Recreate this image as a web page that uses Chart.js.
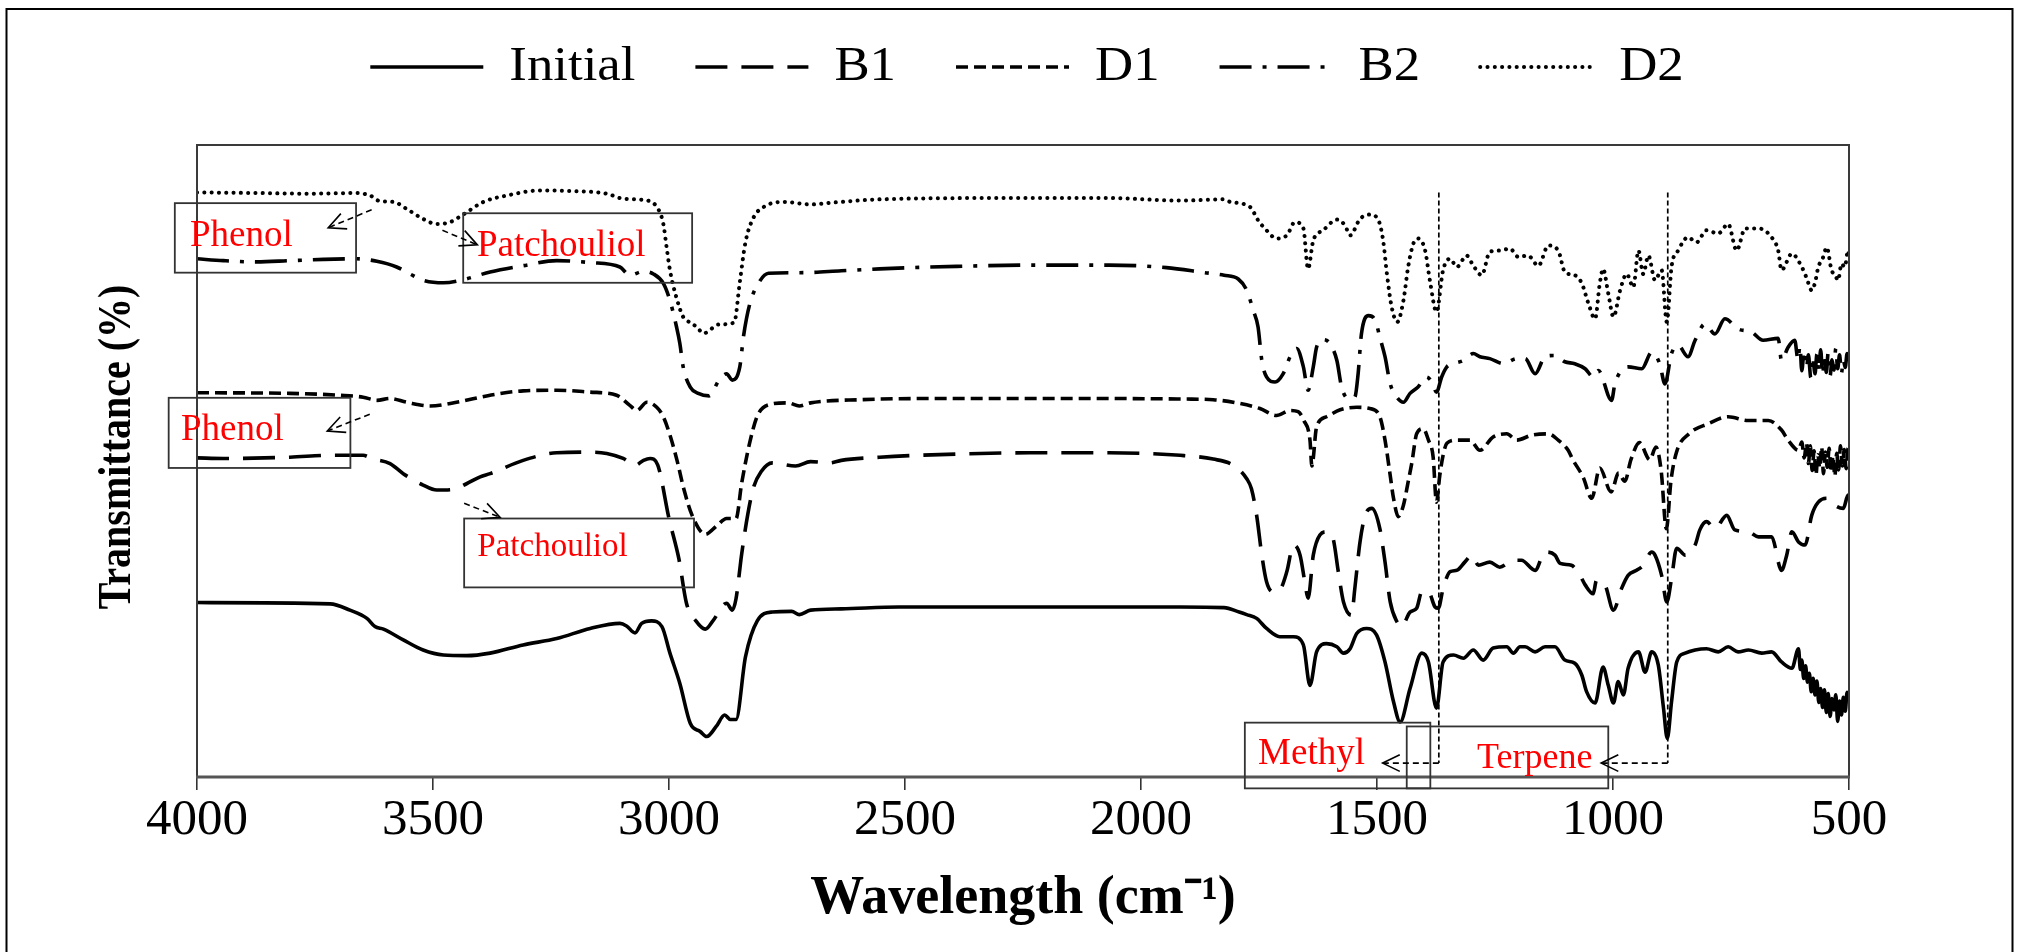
<!DOCTYPE html>
<html>
<head>
<meta charset="utf-8">
<title>FTIR spectra</title>
<script src="https://cdn.jsdelivr.net/npm/chart.js@4.4.1/dist/chart.umd.min.js"></script>
<style>
  html, body { margin: 0; padding: 0; background: #fff; }
  canvas { display: block; }
</style>
</head>
<body>
<canvas id="ftir" width="2019" height="952"></canvas>
<script>
// ---- Spectra: wavenumber (cm-1) and relative transmittance, each curve stacked with its own offset ----
const seriesNames = ['Initial', 'B1', 'D1', 'B2', 'D2'];

const initialWn = [4000, 3718, 3676, 3640, 3623, 3605, 3563, 3521, 3478, 3429, 3379, 3309, 3238, 3167, 3104, 3090, 3072, 3058, 3037, 3015, 2998, 2977, 2955, 2934, 2920, 2900, 2882, 2870, 2858, 2838, 2813, 2781, 2740, 2724, 2700, 2635, 2513, 2311, 2068, 1917, 1824, 1792, 1776, 1755, 1734, 1706, 1677, 1656, 1642, 1628, 1607, 1585, 1571, 1557, 1543, 1522, 1501, 1483, 1465, 1451, 1430, 1405, 1391, 1374, 1360, 1338, 1317, 1296, 1275, 1254, 1225, 1211, 1197, 1186, 1165, 1144, 1123, 1102, 1081, 1066, 1056, 1038, 1021, 1010, 999, 989, 978, 968, 946, 932, 918, 904, 893, 885, 876, 865, 847, 826, 802, 777, 756, 735, 713, 685, 664, 643, 621, 607, 603, 600, 596, 592, 588, 584, 580, 576, 572, 568, 564, 560, 556, 552, 548, 544, 540, 536, 532, 528, 524, 520, 516, 512, 508, 504, 500];
const initialT  = [27.6, 27.4, 26.4, 25.1, 23.8, 23.4, 21.7, 20.1, 19.3, 19.2, 19.6, 20.9, 21.9, 23.5, 24.3, 23.9, 22.8, 24.3, 24.7, 23.8, 19.6, 14.8, 8.5, 7.2, 6.4, 8.0, 9.8, 9.1, 9.1, 19.0, 24.7, 26.1, 26.2, 25.7, 26.4, 26.6, 26.9, 26.9, 26.9, 26.9, 26.8, 26.1, 25.7, 25.1, 23.5, 22.2, 22.2, 20.9, 14.5, 19.8, 21.1, 20.6, 19.6, 20.3, 22.7, 23.5, 22.5, 18.2, 11.9, 8.7, 14.0, 19.6, 18.2, 10.9, 18.2, 19.3, 18.8, 20.1, 18.5, 20.4, 20.6, 19.6, 20.6, 20.6, 19.8, 20.6, 20.6, 18.5, 18.0, 16.1, 13.5, 11.7, 17.4, 14.5, 11.7, 15.1, 13.0, 17.2, 19.8, 16.6, 19.8, 17.7, 10.9, 6.1, 11.9, 18.2, 19.6, 20.1, 20.3, 19.8, 20.6, 19.8, 20.1, 19.6, 19.8, 18.2, 17.2, 20.3, 17.0, 18.5, 15.6, 17.6, 15.0, 16.4, 13.5, 15.6, 13.0, 15.2, 11.8, 14.0, 11.0, 13.8, 10.2, 13.2, 9.6, 12.4, 10.6, 13.0, 8.8, 12.0, 9.8, 12.6, 10.4, 13.4, 12.0];

const b1Wn = [4000, 3944, 3803, 3718, 3648, 3630, 3591, 3563, 3521, 3492, 3457, 3429, 3400, 3379, 3309, 3238, 3167, 3132, 3097, 3072, 3054, 3040, 3024, 3000, 2979, 2963, 2943, 2923, 2907, 2878, 2866, 2858, 2846, 2833, 2821, 2805, 2781, 2732, 2700, 2659, 2635, 2554, 2391, 2229, 2068, 1917, 1847, 1804, 1776, 1766, 1755, 1744, 1734, 1720, 1706, 1691, 1677, 1663, 1653, 1646, 1635, 1621, 1607, 1593, 1582, 1571, 1554, 1547, 1536, 1525, 1511, 1494, 1483, 1472, 1458, 1448, 1430, 1416, 1405, 1391, 1377, 1370, 1360, 1345, 1331, 1314, 1299, 1285, 1261, 1240, 1211, 1194, 1165, 1144, 1123, 1112, 1088, 1070, 1059, 1042, 1035, 1017, 999, 982, 968, 950, 936, 918, 911, 897, 886, 876, 865, 847, 826, 816, 802, 784, 759, 742, 713, 692, 664, 643, 632, 621, 607, 593, 579, 565, 544, 530, 512, 502, 500];
const b1T  = [50.5, 50.4, 50.6, 50.9, 50.9, 50.4, 49.6, 48.0, 46.2, 45.4, 45.5, 46.4, 47.5, 48.0, 50.1, 51.3, 51.4, 51.2, 50.4, 49.3, 50.1, 50.4, 49.4, 40.9, 34.5, 27.5, 24.7, 23.4, 24.7, 27.5, 26.4, 28.2, 35.3, 41.6, 45.8, 48.3, 49.7, 49.2, 49.9, 49.7, 50.1, 50.6, 51.1, 51.3, 51.3, 50.9, 50.3, 49.3, 47.2, 45.6, 41.4, 35.1, 30.9, 29.3, 29.6, 32.5, 36.7, 35.1, 30.9, 28.3, 35.1, 38.3, 38.8, 37.7, 32.5, 27.7, 25.6, 29.8, 37.2, 41.4, 42.5, 39.3, 34.0, 27.7, 24.6, 23.8, 26.1, 26.7, 29.3, 29.3, 26.9, 26.7, 29.8, 32.5, 32.7, 34.0, 35.1, 33.5, 34.0, 33.2, 34.3, 34.3, 32.7, 35.6, 35.1, 33.8, 33.5, 31.9, 30.4, 29.0, 31.1, 30.4, 26.4, 29.8, 31.9, 32.7, 33.5, 35.6, 35.1, 31.9, 27.7, 31.4, 36.2, 35.1, 36.7, 39.1, 40.4, 39.3, 41.4, 39.1, 38.8, 38.0, 38.0, 32.7, 35.1, 38.8, 37.2, 36.7, 41.4, 43.5, 44.1, 43.0, 42.5, 44.6, 44.0];

const d1Wn = [4000, 3803, 3697, 3648, 3619, 3591, 3556, 3506, 3450, 3379, 3309, 3238, 3167, 3111, 3083, 3068, 3047, 3026, 3012, 2998, 2983, 2968, 2951, 2923, 2898, 2878, 2858, 2846, 2829, 2813, 2789, 2748, 2724, 2700, 2594, 2391, 2148, 1905, 1847, 1790, 1748, 1713, 1684, 1667, 1655, 1642, 1638, 1628, 1607, 1578, 1543, 1515, 1494, 1483, 1472, 1465, 1455, 1444, 1434, 1426, 1416, 1402, 1391, 1381, 1374, 1367, 1360, 1352, 1331, 1303, 1282, 1254, 1225, 1204, 1172, 1137, 1116, 1095, 1085, 1063, 1045, 1028, 1004, 988, 975, 962, 944, 922, 909, 898, 887, 877, 865, 839, 798, 756, 713, 671, 643, 629, 607, 600, 595, 590, 586, 582, 578, 574, 570, 566, 562, 558, 554, 550, 546, 542, 538, 534, 530, 526, 522, 518, 514, 510, 506, 502, 500];
const d1T  = [60.8, 60.7, 60.4, 60.1, 59.6, 59.9, 59.3, 58.7, 59.3, 60.4, 61.1, 61.2, 60.9, 60.4, 58.8, 58.0, 59.3, 58.5, 57.0, 54.1, 50.1, 45.4, 41.4, 38.4, 39.8, 40.9, 40.9, 46.5, 52.9, 57.1, 58.9, 59.2, 58.7, 59.2, 59.7, 59.9, 59.9, 59.8, 59.7, 59.1, 58.3, 57.2, 58.0, 57.8, 56.4, 53.3, 49.2, 55.4, 57.0, 58.1, 58.5, 58.3, 57.0, 53.3, 47.7, 44.1, 41.2, 43.0, 46.7, 49.8, 54.3, 55.1, 53.3, 50.6, 43.5, 47.7, 50.9, 52.8, 53.3, 53.3, 51.7, 53.8, 54.3, 53.3, 54.1, 54.3, 53.3, 51.7, 50.2, 47.4, 44.1, 48.9, 45.1, 48.1, 46.8, 50.2, 52.9, 50.2, 52.2, 48.5, 39.3, 47.0, 51.5, 54.3, 55.9, 57.0, 56.4, 56.4, 54.9, 53.3, 51.7, 53.0, 50.5, 52.8, 49.6, 52.4, 48.5, 51.6, 47.8, 51.0, 48.9, 52.2, 48.0, 51.4, 49.0, 52.0, 48.2, 50.8, 47.6, 51.2, 48.6, 52.4, 49.2, 51.8, 48.8, 52.0, 51.0];

const b2Wn = [4000, 3944, 3874, 3803, 3732, 3662, 3619, 3577, 3549, 3521, 3478, 3436, 3379, 3309, 3238, 3167, 3104, 3083, 3054, 3033, 3012, 2998, 2984, 2977, 2970, 2955, 2938, 2915, 2894, 2878, 2866, 2850, 2842, 2829, 2809, 2789, 2716, 2635, 2554, 2391, 2229, 2068, 1946, 1865, 1824, 1794, 1776, 1762, 1752, 1744, 1734, 1716, 1699, 1684, 1670, 1656, 1646, 1635, 1628, 1614, 1600, 1585, 1575, 1561, 1547, 1540, 1533, 1518, 1504, 1494, 1483, 1472, 1458, 1444, 1430, 1413, 1395, 1384, 1374, 1363, 1352, 1338, 1317, 1296, 1282, 1261, 1232, 1204, 1186, 1165, 1144, 1123, 1102, 1081, 1059, 1042, 1031, 1003, 996, 968, 939, 918, 901, 890, 876, 862, 841, 826, 805, 784, 763, 735, 706, 682, 650, 643, 629, 615, 608, 604, 600, 595, 590, 586, 581, 577, 572, 568, 564, 560, 556, 552, 548, 544, 540, 536, 532, 528, 524, 520, 516, 512, 508, 504, 500];
const b2T  = [82.0, 81.7, 81.5, 81.7, 81.9, 82.0, 81.6, 80.7, 79.6, 78.6, 78.2, 78.7, 79.9, 80.9, 81.7, 81.4, 80.7, 79.4, 80.0, 79.6, 78.1, 75.4, 71.2, 68.6, 64.9, 61.7, 60.7, 60.3, 62.8, 63.8, 62.8, 64.9, 69.8, 74.8, 78.3, 79.7, 79.8, 80.1, 80.4, 80.8, 81.0, 81.0, 80.6, 79.8, 79.4, 78.8, 77.0, 73.8, 71.2, 65.9, 63.3, 62.5, 63.8, 66.5, 67.8, 64.9, 61.2, 64.9, 68.0, 69.2, 68.6, 65.9, 61.7, 59.9, 60.1, 63.8, 70.1, 73.0, 72.3, 69.6, 66.5, 62.2, 60.1, 59.3, 60.7, 61.7, 63.3, 62.5, 60.9, 63.3, 64.9, 65.4, 65.9, 67.0, 66.5, 66.2, 65.4, 66.2, 66.2, 63.8, 66.5, 66.7, 65.7, 65.4, 64.6, 63.3, 64.3, 59.6, 62.2, 64.9, 64.6, 67.2, 65.4, 62.2, 67.0, 68.3, 66.5, 69.1, 71.7, 70.1, 72.5, 70.9, 70.4, 69.1, 69.4, 65.9, 68.0, 69.1, 66.0, 68.2, 64.3, 67.5, 64.8, 66.8, 63.2, 66.5, 63.8, 66.9, 64.2, 67.6, 63.6, 66.4, 64.0, 67.2, 63.5, 66.0, 64.4, 67.8, 64.6, 66.8, 63.9, 66.0, 64.8, 67.0, 65.8];

const d2Wn = [4000, 3874, 3768, 3662, 3633, 3612, 3584, 3556, 3521, 3492, 3464, 3436, 3393, 3344, 3273, 3203, 3132, 3097, 3054, 3024, 3012, 3005, 2998, 2984, 2970, 2963, 2941, 2927, 2894, 2862, 2850, 2838, 2821, 2797, 2756, 2700, 2651, 2554, 2311, 2068, 1917, 1824, 1811, 1769, 1752, 1734, 1713, 1691, 1674, 1656, 1646, 1635, 1614, 1585, 1568, 1557, 1536, 1515, 1497, 1487, 1479, 1469, 1457, 1444, 1434, 1423, 1413, 1398, 1388, 1374, 1360, 1345, 1331, 1310, 1296, 1278, 1261, 1240, 1218, 1201, 1180, 1158, 1137, 1116, 1102, 1081, 1066, 1052, 1038, 1028, 1021, 1010, 999, 985, 971, 957, 946, 936, 925, 911, 897, 886, 876, 862, 841, 823, 802, 777, 756, 738, 720, 692, 664, 650, 643, 621, 600, 590, 579, 572, 565, 556, 547, 537, 530, 523, 516, 509, 502, 500];
const d2T  = [92.5, 92.4, 92.3, 92.4, 92.0, 91.1, 91.0, 89.9, 88.3, 87.5, 87.8, 89.0, 91.0, 92.0, 92.8, 92.7, 92.3, 91.5, 91.3, 90.0, 87.5, 83.8, 80.2, 75.8, 72.8, 72.3, 71.2, 70.2, 71.6, 71.9, 78.3, 84.6, 88.5, 90.3, 91.0, 90.6, 90.9, 91.4, 91.6, 91.6, 91.2, 91.4, 91.0, 90.2, 88.1, 86.5, 85.2, 85.7, 87.8, 86.8, 80.4, 84.9, 86.5, 88.2, 87.3, 85.7, 88.3, 89.0, 88.1, 84.9, 79.6, 74.4, 72.0, 75.4, 80.7, 84.4, 85.2, 83.3, 78.6, 73.6, 80.2, 82.0, 80.7, 82.5, 80.9, 79.4, 83.1, 83.3, 83.6, 82.3, 82.5, 80.9, 84.1, 83.3, 79.9, 79.4, 78.1, 74.9, 72.5, 78.1, 80.4, 76.5, 72.8, 77.0, 79.6, 77.5, 83.3, 79.6, 82.5, 78.6, 80.2, 72.0, 80.7, 83.3, 85.4, 84.6, 86.5, 86.0, 87.5, 83.3, 86.8, 86.8, 85.4, 83.3, 80.2, 82.8, 80.7, 79.0, 77.0, 78.2, 80.7, 82.0, 83.8, 80.2, 79.5, 78.6, 81.2, 80.7, 83.3, 82.0];

const tickValues = [4000, 3500, 3000, 2500, 2000, 1500, 1000, 500];
const xTitle = 'Wavelength (cm\u207B\u00B9)';
const yTitle = 'Transmittance (%)';

// Band annotations (positions in wavenumber / transmittance units)
const bandLabels = [
  { text: 'Phenol',      x0: 4047, x1: 3663, yTop: 90.8, yBot: 79.8, tx: 4015, ty: 84.0, size: 37 },
  { text: 'Patchouliol', x0: 3436, x1: 2951, yTop: 89.2, yBot: 78.2, tx: 3407, ty: 82.5, size: 37 },
  { text: 'Phenol',      x0: 4060, x1: 3675, yTop: 60.0, yBot: 48.9, tx: 4034, ty: 53.3, size: 37 },
  { text: 'Patchouliol', x0: 3434, x1: 2947, yTop: 40.9, yBot: 30.0, tx: 3406, ty: 34.9, size: 33 },
  { text: 'Methyl',      x0: 1780, x1: 1387, yTop: 8.6,  yBot: -1.8, tx: 1752, ty: 2.0,  size: 37 },
  { text: 'Terpene',     x0: 1437, x1: 1010, yTop: 8.0,  yBot: -1.8, tx: 1288, ty: 1.5,  size: 36 }
];
const bandArrows = [
  { from: [3630, 89.75], to: [3722, 86.9] },
  { from: [3480, 86.5],  to: [3406, 84.2] },
  { from: [3634, 57.4],  to: [3724, 54.75] },
  { from: [3434, 43.3],  to: [3358, 41.1] },
  { from: [1369, 2.2],   to: [1488, 2.2] },
  { from: [884, 2.2],    to: [1025, 2.2] }
];
const markerWn = [1369, 884];
const markerRange = [92.5, 2.2];

// ---- Styling ----
const SERIF = '"Liberation Serif", "Times New Roman", Times, serif';
const lineStyles = {
  Initial: { dash: [],              cap: 'butt',  width: 3.6 },
  B1:      { dash: [32, 14],        cap: 'butt',  width: 3.6 },
  D1:      { dash: [12, 6],         cap: 'butt',  width: 3.6 },
  B2:      { dash: [32, 11, 4, 11], cap: 'butt',  width: 3.6 },
  D2:      { dash: [0.1, 7.2],      cap: 'round', width: 4.0 }
};
const seriesData = [
  [initialWn, initialT], [b1Wn, b1T], [d1Wn, d1T], [b2Wn, b2T], [d2Wn, d2T]
];

const datasets = seriesNames.map((name, k) => ({
  label: name,
  data: seriesData[k][0].map((w, i) => ({ x: w, y: seriesData[k][1][i] })),
  borderColor: '#000',
  backgroundColor: '#000',
  borderWidth: lineStyles[name].width,
  borderDash: lineStyles[name].dash,
  borderCapStyle: lineStyles[name].cap,
  borderJoinStyle: 'round',
  pointRadius: 0,
  fill: false,
  cubicInterpolationMode: 'monotone'
}));

function drawArrow(ctx, x1, y1, x2, y2) {
  ctx.save();
  ctx.strokeStyle = '#000';
  ctx.lineWidth = 1.6;
  ctx.setLineDash([6, 4]);
  ctx.beginPath(); ctx.moveTo(x1, y1); ctx.lineTo(x2, y2); ctx.stroke();
  ctx.setLineDash([]);
  const a = Math.atan2(y2 - y1, x2 - x1), L = 19, h = 0.45;
  ctx.beginPath();
  ctx.moveTo(x2 - L * Math.cos(a - h), y2 - L * Math.sin(a - h));
  ctx.lineTo(x2, y2);
  ctx.lineTo(x2 - L * Math.cos(a + h), y2 - L * Math.sin(a + h));
  ctx.stroke();
  ctx.restore();
}

const decor = {
  id: 'decor',
  beforeDraw(chart) {
    const ctx = chart.ctx;
    ctx.save();
    ctx.fillStyle = '#fff';
    ctx.fillRect(0, 0, chart.width, chart.height);
    ctx.restore();
  },
  afterDatasetsDraw(chart) {
    const ctx = chart.ctx, a = chart.chartArea, xs = chart.scales.x, ys = chart.scales.y;
    ctx.save();
    // plot frame
    ctx.strokeStyle = '#3a3a3a';
    ctx.lineWidth = 2;
    ctx.beginPath();
    ctx.moveTo(a.left, a.bottom); ctx.lineTo(a.left, a.top);
    ctx.lineTo(a.right, a.top); ctx.lineTo(a.right, a.bottom);
    ctx.stroke();
    ctx.strokeStyle = '#555';
    ctx.lineWidth = 3;
    ctx.beginPath(); ctx.moveTo(a.left - 1, a.bottom); ctx.lineTo(a.right + 1, a.bottom); ctx.stroke();

    // vertical band markers
    ctx.strokeStyle = '#000';
    ctx.lineWidth = 1.7;
    ctx.setLineDash([5, 3]);
    markerWn.forEach(w => {
      const px = xs.getPixelForValue(w);
      ctx.beginPath();
      ctx.moveTo(px, ys.getPixelForValue(markerRange[0]));
      ctx.lineTo(px, ys.getPixelForValue(markerRange[1]));
      ctx.stroke();
    });
    ctx.setLineDash([]);

    // labelled boxes
    bandLabels.forEach(b => {
      const x0 = xs.getPixelForValue(b.x0), x1 = xs.getPixelForValue(b.x1);
      const y0 = ys.getPixelForValue(b.yTop), y1 = ys.getPixelForValue(b.yBot);
      ctx.strokeStyle = '#333';
      ctx.lineWidth = 1.8;
      ctx.strokeRect(x0, y0, x1 - x0, y1 - y0);
      ctx.fillStyle = '#ff0000';
      ctx.font = b.size + 'px ' + SERIF;
      ctx.textBaseline = 'alphabetic';
      ctx.textAlign = 'left';
      ctx.fillText(b.text, xs.getPixelForValue(b.tx), ys.getPixelForValue(b.ty));
    });

    bandArrows.forEach(r => drawArrow(ctx,
      xs.getPixelForValue(r.from[0]), ys.getPixelForValue(r.from[1]),
      xs.getPixelForValue(r.to[0]), ys.getPixelForValue(r.to[1])));
    ctx.restore();
  },
  afterDraw(chart) {
    const ctx = chart.ctx, a = chart.chartArea;
    ctx.save();

    // y-axis title, rotated, glyphs slightly widened
    ctx.save();
    ctx.translate(118, (a.top + a.bottom) / 2 - 14);
    ctx.rotate(-Math.PI / 2);
    ctx.scale(1, 1.15);
    ctx.font = 'bold 40px ' + SERIF;
    ctx.fillStyle = '#000';
    ctx.textAlign = 'center';
    ctx.textBaseline = 'middle';
    ctx.fillText(yTitle, 0, 0);
    ctx.restore();

    // legend row
    const L = { cx: 1027, y: 67, line: 113, gap: 26, spacing: 60, size: 48, stretch: 1.1 };
    ctx.font = L.size + 'px ' + SERIF;
    const items = chart.data.datasets.map(ds => ({ ds, w: ctx.measureText(ds.label).width * L.stretch }));
    const total = items.reduce((s, it) => s + L.line + L.gap + it.w, 0) + L.spacing * (items.length - 1);
    let x = L.cx - total / 2;
    items.forEach(it => {
      ctx.strokeStyle = '#000';
      ctx.lineWidth = it.ds.borderWidth;
      ctx.lineCap = it.ds.borderCapStyle;
      ctx.setLineDash(it.ds.borderDash);
      ctx.beginPath(); ctx.moveTo(x, L.y); ctx.lineTo(x + L.line, L.y); ctx.stroke();
      ctx.setLineDash([]);
      ctx.save();
      ctx.translate(x + L.line + L.gap, L.y);
      ctx.scale(L.stretch, 1);
      ctx.fillStyle = '#000';
      ctx.textBaseline = 'middle';
      ctx.textAlign = 'left';
      ctx.fillText(it.ds.label, 0, 0);
      ctx.restore();
      x += L.line + L.gap + it.w + L.spacing;
    });

    // outer figure border
    ctx.strokeStyle = '#000';
    ctx.lineWidth = 2;
    ctx.lineCap = 'butt';
    ctx.beginPath();
    ctx.moveTo(6.5, chart.height + 2); ctx.lineTo(6.5, 9); ctx.lineTo(2012.5, 9); ctx.lineTo(2012.5, chart.height + 2);
    ctx.stroke();
    ctx.restore();
  }
};

new Chart(document.getElementById('ftir'), {
  type: 'line',
  data: { datasets },
  plugins: [decor],
  options: {
    responsive: false,
    animation: false,
    devicePixelRatio: 1,
    layout: { padding: { top: 145, right: 170, bottom: 0, left: 0 } },
    plugins: { legend: { display: false }, tooltip: { enabled: false } },
    scales: {
      x: {
        type: 'linear',
        reverse: true,
        min: 500,
        max: 4000,
        afterFit(s) { s.height = 175; },
        afterBuildTicks(s) { s.ticks = tickValues.map(v => ({ value: v })); },
        ticks: {
          color: '#000',
          padding: 0,
          maxRotation: 0,
          autoSkip: false,
          font: { family: SERIF, size: 51, lineHeight: 1.2 },
          callback: v => String(v)
        },
        grid: { drawOnChartArea: false, drawTicks: true, tickLength: 13, color: '#333', lineWidth: 1.6 },
        border: { display: false },
        title: {
          display: true,
          text: xTitle,
          color: '#000',
          font: { family: SERIF, size: 54, weight: 'bold', lineHeight: 1.2 },
          padding: { top: 0, bottom: 21 }
        }
      },
      y: {
        min: 0,
        max: 100,
        afterFit(s) { s.width = 197; },
        ticks: { display: false },
        grid: { display: false },
        border: { display: false },
        title: { display: false }
      }
    }
  }
});
</script>
</body>
</html>
